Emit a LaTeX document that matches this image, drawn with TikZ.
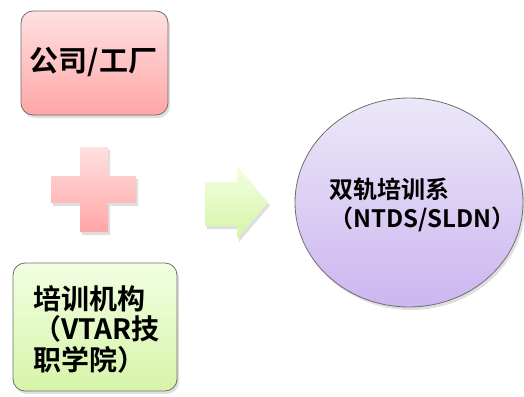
\documentclass[tikz,border=0pt]{standalone}
\usepackage{fontspec}
\newfontfamily\cjkb{Noto Sans CJK SC Bold}
\newfontfamily\cjkr{Noto Sans CJK SC}
\usetikzlibrary{shadows,shapes.geometric}
\definecolor{pinkT}{HTML}{FFE0E0}
\definecolor{pinkB}{HTML}{FFA6A6}
\definecolor{greenT}{HTML}{F2FFE2}
\definecolor{greenB}{HTML}{D6F4A8}
\definecolor{lavT}{HTML}{ECE8F8}
\definecolor{lavB}{HTML}{CCB6F0}
\definecolor{edge}{HTML}{6E6E6E}
\tikzset{
  softshadow/.style={drop shadow={opacity=0.25,shadow xshift=2pt,shadow yshift=-3pt}},
  boxstyle/.style={draw=edge,line width=0.8pt,rounded corners=12pt,softshadow},
}
\begin{document}
\begin{tikzpicture}[x=1pt,y=-1pt]
\useasboundingbox (0,0) rectangle (524,396);
% top box
\node[boxstyle,top color=pinkT,bottom color=pinkB,minimum width=147pt,minimum height=104pt,inner sep=0pt] (company) at (94.5,63) {};
\node[font=\cjkb\fontsize{29}{30}\selectfont,inner sep=0pt] (companytext) at (93.5,62) {公司/工厂};
% bottom box
\node[boxstyle,top color=greenT,bottom color=greenB,minimum width=164pt,minimum height=128pt,inner sep=0pt] (school) at (95,327) {};
\node[font=\cjkb\fontsize{28}{30.5}\selectfont,align=left,anchor=west,inner sep=0pt] (schooltext) at (33,329) {培训机构\\（VTAR技\\职学院）};
% plus
\shade[top color=pinkT,bottom color=pinkB,softshadow]
  (80,147) -- (108,147) -- (108,176) -- (136,176) -- (136,203) -- (108,203)
  -- (108,232) -- (80,232) -- (80,203) -- (51,203) -- (51,176) -- (80,176) -- cycle;
% arrow
\shade[top color=greenT,bottom color=greenB,softshadow]
  (205,182) -- (237,182) -- (237,166) -- (268,202.5) -- (237,239) -- (237,226) -- (205,226) -- cycle;
% ellipse
\node[draw=edge,line width=0.8pt,top color=lavT,bottom color=lavB,ellipse,minimum width=228pt,minimum height=209pt,inner sep=0pt,softshadow] (dual) at (409,202.5) {};
\node[font=\cjkb\fontsize{24}{29}\selectfont,align=left,anchor=west,inner sep=0pt] (dualtext) at (329,205) {双轨培训系\\（NTDS/SLDN）};
\end{tikzpicture}
\end{document}
